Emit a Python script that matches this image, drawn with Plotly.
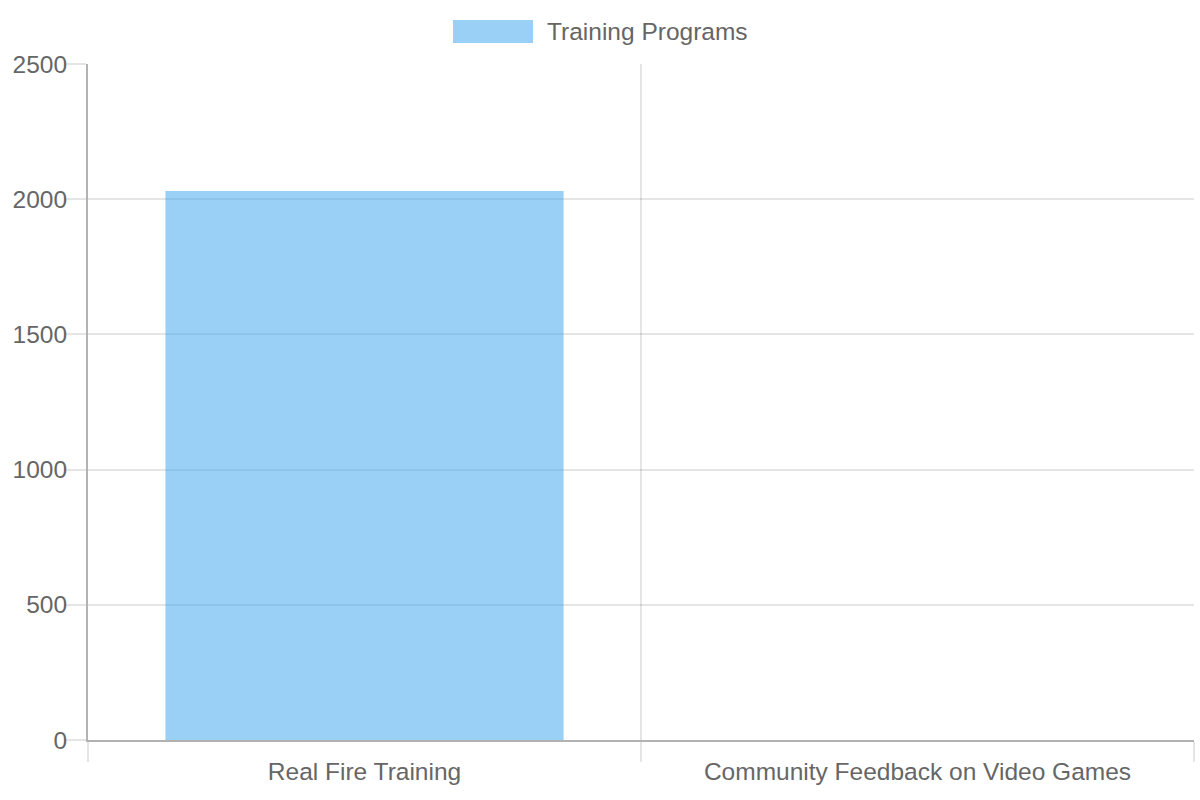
import plotly.graph_objects as go

categories = ["Real Fire Training", "Community Feedback on Video Games"]
values = [2030, 0]
series_name = "Training Programs"
y_ticks = [0, 500, 1000, 1500, 2000, 2500]

FONT = "Liberation Sans, Arial, sans-serif"
FS = 24.5
TXT = "#666666"
GRID = "rgba(0,0,0,0.1)"
AXIS = "rgba(0,0,0,0.3)"
BAR = "rgba(54,162,235,0.5)"

L, R, T, B = 88, 6, 64, 60
W, H = 1200, 800
pw, ph = W - L - R, H - T - B

fig = go.Figure()
fig.add_trace(go.Bar(
    x=categories, y=values, name=series_name,
    width=0.72, marker=dict(color=BAR, line=dict(width=0)),
    showlegend=False,
))

fig.update_layout(
    width=W, height=H,
    margin=dict(l=L, r=R, t=T, b=B, pad=0),
    paper_bgcolor="white", plot_bgcolor="white",
    font=dict(family=FONT, size=FS, color=TXT),
    bargap=0.28,
    xaxis=dict(
        type="category", tickson="boundaries",
        showgrid=True, gridcolor=GRID, gridwidth=2,
        ticks="outside", ticklen=20, tickwidth=2, tickcolor=GRID,
        showline=True, linecolor=AXIS, linewidth=2,
        tickfont=dict(family=FONT, size=FS, color=TXT),
        ticklabelstandoff=9,
        range=[-0.5, 1.5],
    ),
    yaxis=dict(
        range=[0, 2500], tickvals=y_ticks,
        showgrid=True, gridcolor=GRID, gridwidth=2,
        ticks="outside", ticklen=20, tickwidth=2, tickcolor=GRID,
        showline=True, linecolor=AXIS, linewidth=2,
        zeroline=False,
        ticklabelstandoff=-6,
        tickfont=dict(family=FONT, size=FS, color=TXT),
    ),
)

def px_x(p):
    return (p - L) / pw

def px_y(p):
    return (H - B - p) / ph

# Legend swatch and label (Chart.js-style legend above the plot)
fig.add_shape(type="rect", xref="paper", yref="paper",
              x0=px_x(453), x1=px_x(533), y0=px_y(43), y1=px_y(20),
              fillcolor=BAR, line=dict(width=0))
fig.add_annotation(xref="paper", yref="paper", x=px_x(545), y=px_y(31.5),
                   text=series_name, showarrow=False, xanchor="left", yanchor="middle",
                   font=dict(family=FONT, size=FS, color=TXT))

fig.write_html("out.html")
